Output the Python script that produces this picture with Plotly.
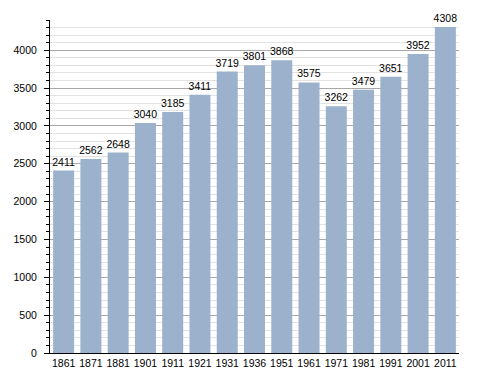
import plotly.graph_objects as go

years = ["1861", "1871", "1881", "1901", "1911", "1921", "1931", "1936",
         "1951", "1961", "1971", "1981", "1991", "2001", "2011"]
population = [2411, 2562, 2648, 3040, 3185, 3411, 3719, 3801,
              3868, 3575, 3262, 3479, 3651, 3952, 4308]

fig = go.Figure(go.Bar(
    x=years, y=population,
    text=[str(v) for v in population],
    textposition="outside",
    constraintext="none",
    textfont=dict(size=10.5, color="#000000", family="Liberation Sans, Arial, sans-serif"),
    cliponaxis=False,
    marker=dict(color="#9bb1cc", line=dict(width=0)),
))

# page body has an 8px default margin, so the figure is 8px smaller
fig.update_layout(
    width=480, height=365,
    margin=dict(l=42, r=29, t=12, b=20),
    paper_bgcolor="white", plot_bgcolor="white",
    bargap=0.23,
    showlegend=False,
    font=dict(family="Liberation Sans, Arial, sans-serif", size=10, color="#000000"),
)
fig.update_xaxes(
    type="category", automargin=False,
    showline=True, linecolor="#000000", linewidth=1,
    ticks="", showgrid=False,
    tickfont=dict(size=10.5),
)
fig.update_yaxes(
    range=[0, 4400], dtick=500, tick0=0, automargin=False,
    showline=True, linecolor="#000000", linewidth=1,
    ticks="outside", ticklen=5, tickcolor="#000000",
    showgrid=True, gridcolor="#a8a8a8", gridwidth=1,
    zeroline=False,
    tickfont=dict(size=10.5),
    ticklabelstandoff=5,
    minor=dict(dtick=100, ticks="outside", ticklen=3, tickcolor="#000000",
               showgrid=True, gridcolor="#e2e2e2", gridwidth=1),
)

fig.write_html("out.html")
